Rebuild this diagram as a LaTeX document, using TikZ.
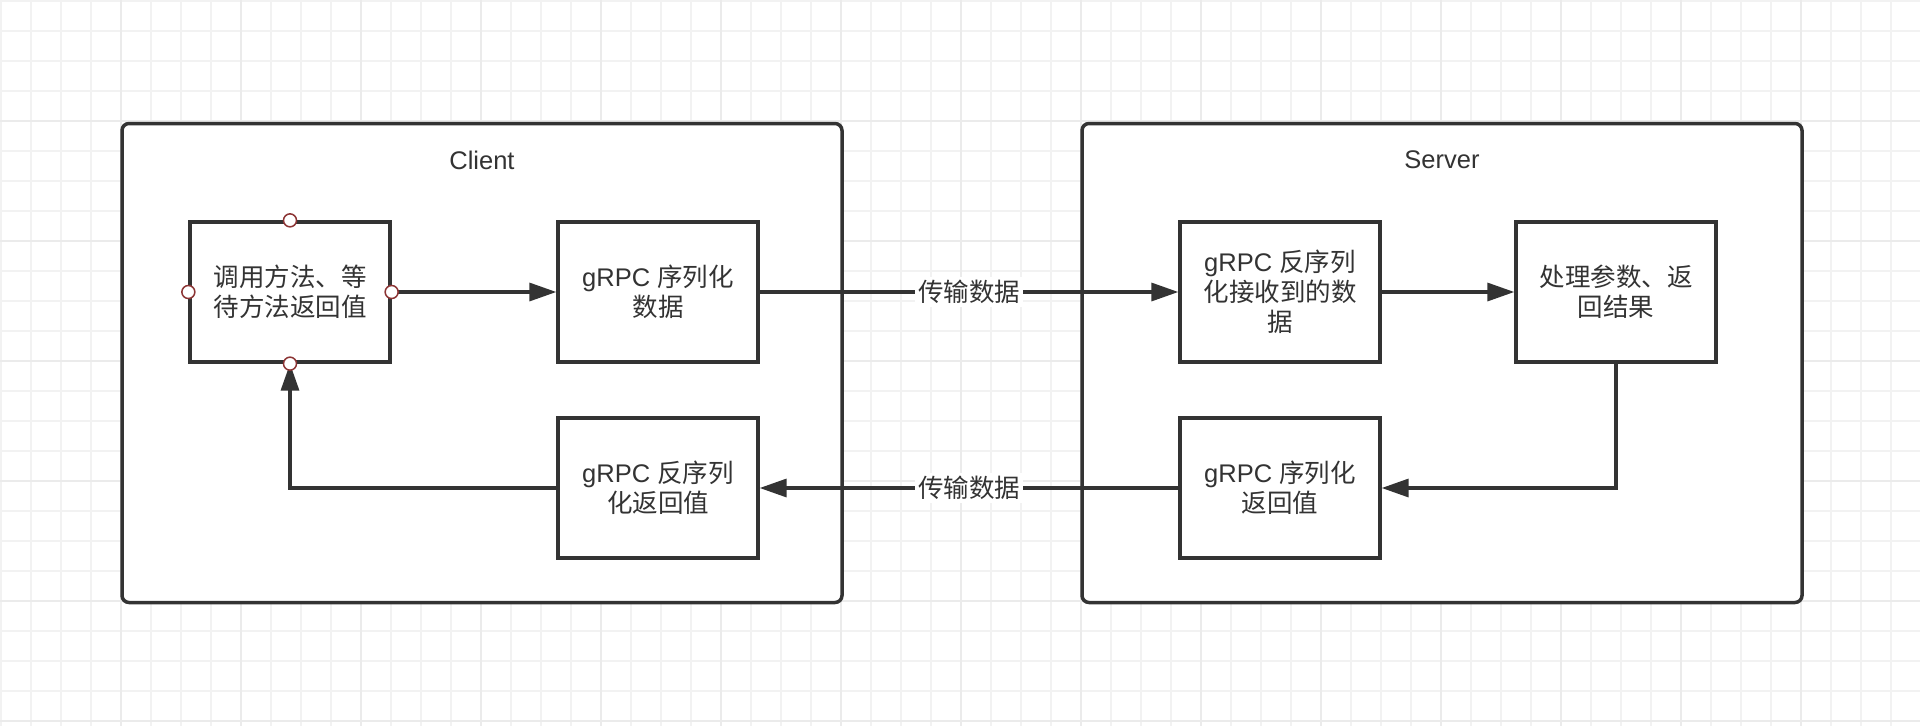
\documentclass[tikz,border=0pt]{standalone}
\usepackage{fontspec}
\setmainfont{Liberation Sans}
\newfontfamily\cjk{Noto Sans CJK SC}
\usepackage{tikz}
\usetikzlibrary{arrows.meta,positioning}
\definecolor{ink}{HTML}{333333}
\definecolor{dotred}{HTML}{8C3434}

\begin{document}
\begin{tikzpicture}[x=1pt,y=-1pt,
  gridline/.style={draw=black!5,line width=1.5pt},
  gridmajor/.style={draw=black!8,line width=1.5pt},
  outerbox/.style={draw=ink,fill=white,line width=3.5pt,rounded corners=7pt,minimum width=720pt,minimum height=479pt},
  cbox/.style={draw=ink,fill=white,line width=3.3pt,minimum width=200pt,minimum height=140pt,inner sep=0pt,align=center,text=ink,font=\fontsize{25.5}{30}\selectfont},
  title/.style={text=ink,font=\fontsize{25.5}{30}\selectfont},
  link/.style={draw=ink,line width=3.3pt,-{Triangle[length=27pt,width=18pt]}},
  lbl/.style={fill=white,text=ink,inner sep=3pt,font=\fontsize{25.5}{30}\selectfont\cjk},
  dot/.style={draw=dotred,fill=white,line width=1.5pt}]
\useasboundingbox (0,0) rectangle (1920,726);
% grid
\fill[white] (0,0) rectangle (1920,726);
\foreach \x in {1,31,...,1920} \draw[gridline] (\x,0) -- (\x,726);
\foreach \y in {1,31,...,726} \draw[gridline] (0,\y) -- (1920,\y);
\foreach \x in {121,241,...,1920} \draw[gridmajor] (\x,0) -- (\x,726);
\foreach \y in {121,241,...,726} \draw[gridmajor] (0,\y) -- (1920,\y);
% client / server
\node[outerbox] (client) at (482,363) {};
\node[outerbox] (server) at (1442,363) {};
\node[title] (clientname) at (482,160) {Client};
\node[title] (servername) at (1442,160) {Server};
% steps
\node[cbox] (call) at (290,292) {\cjk 调用方法、等\\\cjk 待方法返回值};
\node[cbox] (ser) at (658,292) {gRPC {\cjk 序列化}\\\cjk 数据};
\node[cbox] (deser) at (1280,292) {gRPC {\cjk 反序列}\\\cjk 化接收到的数\\\cjk 据};
\node[cbox] (proc) at (1616,292) {\cjk 处理参数、返\\\cjk 回结果};
\node[cbox] (deserret) at (658,488) {gRPC {\cjk 反序列}\\\cjk 化返回值};
\node[cbox] (serret) at (1280,488) {gRPC {\cjk 序列化}\\\cjk 返回值};
% arrows
\draw[link] (call.east) -- (ser.west);
\draw[link] (ser.east) -- node[lbl] (sendlbl) {传输数据} (deser.west);
\draw[link] (deser.east) -- (proc.west);
\draw[link] (proc.south) |- (serret.east);
\draw[link] (serret.west) -- node[lbl] (backlbl) {传输数据} (deserret.east);
\draw[link] (deserret.west) -| (call.south);
% connection points
\foreach \a in {north,south,east,west} \draw[dot] (call.\a) circle (6.5pt);
\end{tikzpicture}
\end{document}
